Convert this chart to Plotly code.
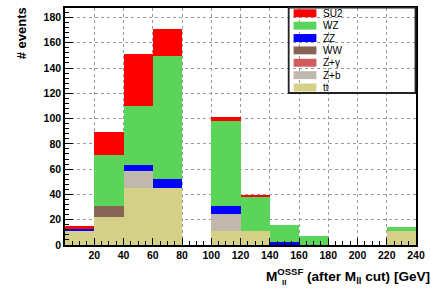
import plotly.graph_objects as go

# ---- data ----
bin_centers = [10, 30, 50, 70, 90, 110, 130, 150, 170, 190, 210, 230]
bin_width = 20
processes = ["tt", "Z+b", "Z+γ", "WW", "ZZ", "WZ", "SU2"]
tt     = [11.2, 22.4, 44.8, 44.8, 0, 11.2, 11.2, 0, 0, 0, 0, 11.2]
zb     = [0, 0, 13.7, 0, 0, 13.6, 0, 0, 0, 0, 0, 0]
zgamma = [0, 0, 0, 0, 0, 0, 0, 0, 0, 0, 0, 0]
ww     = [0, 8.4, 0, 0, 0, 0, 0, 0, 0, 0, 0, 0]
zz     = [1.8, 0, 5.0, 7.2, 0, 6.2, 0, 2.7, 0, 0, 0, 0]
wz     = [0, 40.2, 46.5, 97.2, 0, 67.2, 26.9, 13.2, 6.8, 0, 0, 3.4]
su2    = [2.4, 18.4, 41.3, 21.9, 0, 3.4, 1.4, 0, 0, 0, 0, 0]
x_ticks = [20, 40, 60, 80, 100, 120, 140, 160, 180, 200, 220, 240]
y_ticks = [0, 20, 40, 60, 80, 100, 120, 140, 160, 180]

colors = {
    "SU2": "#ff0000",
    "WZ": "#5ad55a",
    "ZZ": "#0000ff",
    "WW": "#876555",
    "Z+γ": "#d05c5e",
    "Z+b": "#c1b8ad",
    "tt": "#d4d087",
}
series = {"tt": tt, "Z+b": zb, "Z+γ": zgamma, "WW": ww, "ZZ": zz, "WZ": wz, "SU2": su2}
legend_order = ["SU2", "WZ", "ZZ", "WW", "Z+γ", "Z+b", "tt"]

W, H = 431, 289
ML, MR, MT, MB = 65, 9, 6, 44
PW, PH = W - ML - MR, H - MT - MB

def px(xp):
    return (xp - ML) / PW

def py(yp):
    return (H - MB - yp) / PH

fig = go.Figure()
for name in processes:
    fig.add_trace(go.Bar(
        x=bin_centers, y=series[name], width=bin_width, name=name,
        marker=dict(color=colors[name], line=dict(width=0)),
        showlegend=False,
    ))

font = "Liberation Sans, Arial, Helvetica, sans-serif"

fig.update_layout(
    width=W, height=H,
    margin=dict(l=ML, r=MR, t=MT, b=MB),
    paper_bgcolor="white", plot_bgcolor="white",
    barmode="stack", bargap=0,
    font=dict(family=font, color="black"),
    xaxis=dict(
        range=[0, 240], tickmode="array", tickvals=x_ticks,
        ticks="inside", ticklen=7, tickcolor="black", tickwidth=1,
        tickfont=dict(size=10.5, weight="bold"),
        showgrid=True, gridcolor="#9a9a9a", griddash="dot", gridwidth=1,
        zeroline=False, showline=True, linecolor="black", linewidth=1.5, mirror=True,
        minor=dict(tickmode="linear", tick0=0, dtick=5, ticks="inside", ticklen=4,
                   tickcolor="black", showgrid=False),
    ),
    yaxis=dict(
        range=[0, 187.5], tickmode="array", tickvals=y_ticks,
        ticks="inside", ticklen=8, tickcolor="black", tickwidth=1,
        tickfont=dict(size=10.5, weight="bold"),
        showgrid=True, gridcolor="#9a9a9a", griddash="dot", gridwidth=1,
        zeroline=False, showline=True, linecolor="black", linewidth=1.5, mirror=True,
        minor=dict(tickmode="linear", tick0=0, dtick=4, ticks="inside", ticklen=4,
                   tickcolor="black", showgrid=False),
    ),
)

shapes = []
annotations = []
# legend box (transparent, like ROOT)
shapes.append(dict(type="rect", xref="paper", yref="paper",
                   x0=px(292.5), x1=px(421.5), y0=py(91.7), y1=py(5.7),
                   line=dict(color="#222222", width=1.8), fillcolor="rgba(0,0,0,0)"))
for i, name in enumerate(legend_order):
    cy = 11.3 + i * 12.48
    shapes.append(dict(type="rect", xref="paper", yref="paper",
                       x0=px(297.5), x1=px(320.7), y0=py(cy + 4), y1=py(cy - 4),
                       line=dict(width=0), fillcolor=colors[name]))
    annotations.append(dict(xref="paper", yref="paper", x=px(325), y=py(cy),
                            xanchor="left", yanchor="middle", showarrow=False,
                            text=name, font=dict(size=10, family=font, color="black")))

# axis titles
annotations.append(dict(xref="paper", yref="paper", x=px(20.7), y=py(31),
                        xanchor="center", yanchor="middle", showarrow=False, textangle=-90,
                        text="# events", font=dict(size=13, family=font, weight="bold")))
annotations.append(dict(xref="paper", yref="paper", x=px(438), y=py(288),
                        xanchor="right", yanchor="bottom", showarrow=False,
                        text="M<sup>OSSF</sup> (after M<sub>ll</sub> cut) [GeV]",
                        font=dict(size=13.6, family=font, weight="bold")))
annotations.append(dict(xref="paper", yref="paper", x=px(284), y=py(289),
                        xanchor="left", yanchor="bottom", showarrow=False,
                        text="ll", font=dict(size=8, family=font, weight="bold")))

fig.update_layout(shapes=shapes, annotations=annotations)
fig.write_html("out.html", config={"displayModeBar": False},
               post_script="document.body.style.margin='0';")
